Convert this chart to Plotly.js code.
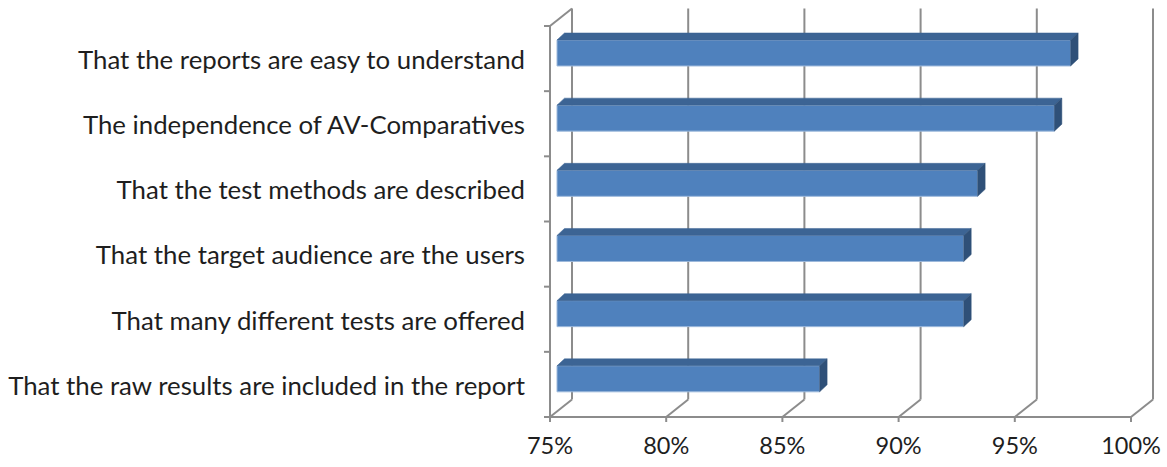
<!DOCTYPE html>
<html>
<head>
<meta charset="utf-8">
<script src="https://cdn.plot.ly/plotly-3.0.1.min.js"></script>
<style>html,body{margin:0;padding:0;background:#fff;}#chart{width:1167px;height:467px;}</style>
</head>
<body>
<div id="chart"></div>
<script>
// ---- data (bottom to top) ----
const categories = [
  "That the raw results are included in the report",
  "That many different tests are offered",
  "That the target audience are the users",
  "That the test methods are described",
  "The independence of AV-Comparatives",
  "That the reports are easy to understand"
];
const values = [86.3, 92.5, 92.5, 93.1, 96.4, 97.1];
const tickValues = [75, 80, 85, 90, 95, 100];
const tickLabels = ["75%", "80%", "85%", "90%", "95%", "100%"];

// ---- geometry (style) ----
const W = 1167, H = 467;
const L = 540, R = 1160, T = 4, B = 422;
const X0PX = 550, X1PX = 1131;           // pixel of 75% / 100% on front floor
const Y0PX = 417, Y6PX = 26;             // front floor / top of left axis
const pxX = (X1PX - X0PX) / 25;          // px per percent
const pxY = (Y0PX - Y6PX) / 6;           // px per category
const xr = [75 - (X0PX - L) / pxX, 75 + (R - X0PX) / pxX];
const yr = [-(B - Y0PX) / pxY, (Y0PX - T) / pxY];
const DX = 22 / pxX, DY = 17.5 / pxY;    // wall depth
const BX0 = 7 / pxX, BY0 = 5.6 / pxY;    // bar front plane
const BDX = 7.5 / pxX, BDY = 7 / pxY;    // bar depth
const BH = 26 / pxY;                      // bar height
const N = categories.length;
const gridCol = "#8c8c8c";

const shapes = [];
function line(x0, y0, x1, y1) {
  shapes.push({type: "line", xref: "x", yref: "y", x0, y0, x1, y1, layer: "below",
    line: {color: gridCol, width: 2}});
}
tickValues.forEach(v => {
  line(v, 0, v + DX, DY);          // floor diagonal
  line(v + DX, DY, v + DX, N + DY);// back wall gridline
  line(v, 0, v, -6 / pxY);         // tick mark
});
line(75, 0, 100, 0);               // front floor edge
line(75, 0, 75, N);                // left axis
line(75, N, 75 + DX, N + DY);      // left wall top
for (let i = 0; i <= N; i++) line(75, i, 75 - 6 / pxX, i); // category ticks

const traces = [];
// front faces
traces.push({
  type: "bar", orientation: "h",
  y: categories.map((c, i) => i + 0.5 + BY0),
  x: values.map(v => v - 75),
  base: values.map(() => 75 + BX0),
  width: BH,
  marker: {color: "#4f81bd", line: {color: "#9db9dc", width: 1}},
  hoverinfo: "skip", showlegend: false
});
values.forEach((v, i) => {
  const yc = i + 0.5 + BY0, yt = yc + BH / 2, yb = yc - BH / 2;
  const xl = 75 + BX0, xe = v + BX0;
  // top face
  traces.push({type: "scatter", mode: "lines", fill: "toself", fillcolor: "#3c6494",
    line: {width: 0.5, color: "#3c6494"}, hoverinfo: "skip", showlegend: false,
    x: [xl, xe, xe + BDX, xl + BDX, xl], y: [yt, yt, yt + BDY, yt + BDY, yt]});
  // side face
  traces.push({type: "scatter", mode: "lines", fill: "toself", fillcolor: "#2f5078",
    line: {width: 0.5, color: "#2f5078"}, hoverinfo: "skip", showlegend: false,
    x: [xe, xe + BDX, xe + BDX, xe, xe], y: [yt, yt + BDY, yb + BDY, yb, yt]});
});

const yfont = {family: "Lato, 'Open Sans', sans-serif", size: 25.8, color: "#1e1e1e"};
const xfont = {family: "Lato, 'Open Sans', sans-serif", size: 23.5, color: "#1e1e1e"};
const layout = {
  width: W, height: H,
  margin: {l: L, r: W - R, t: T, b: H - B, pad: 0},
  paper_bgcolor: "#ffffff", plot_bgcolor: "#ffffff",
  font: yfont,
  showlegend: false,
  bargap: 0,
  xaxis: {range: xr, showgrid: false, zeroline: false, showline: false,
    tickmode: "array", tickvals: tickValues, ticktext: tickLabels, ticks: "",
    ticklabelstandoff: 7, tickfont: xfont, fixedrange: true},
  yaxis: {range: yr, showgrid: false, zeroline: false, showline: false,
    tickmode: "array", tickvals: categories.map((c, i) => i + 0.5 - 0.02), ticktext: categories,
    ticks: "", ticklabelstandoff: 14, tickfont: yfont, fixedrange: true},
  shapes: shapes
};
Plotly.newPlot("chart", traces, layout, {staticPlot: true, displayModeBar: false});
</script>
</body>
</html>
